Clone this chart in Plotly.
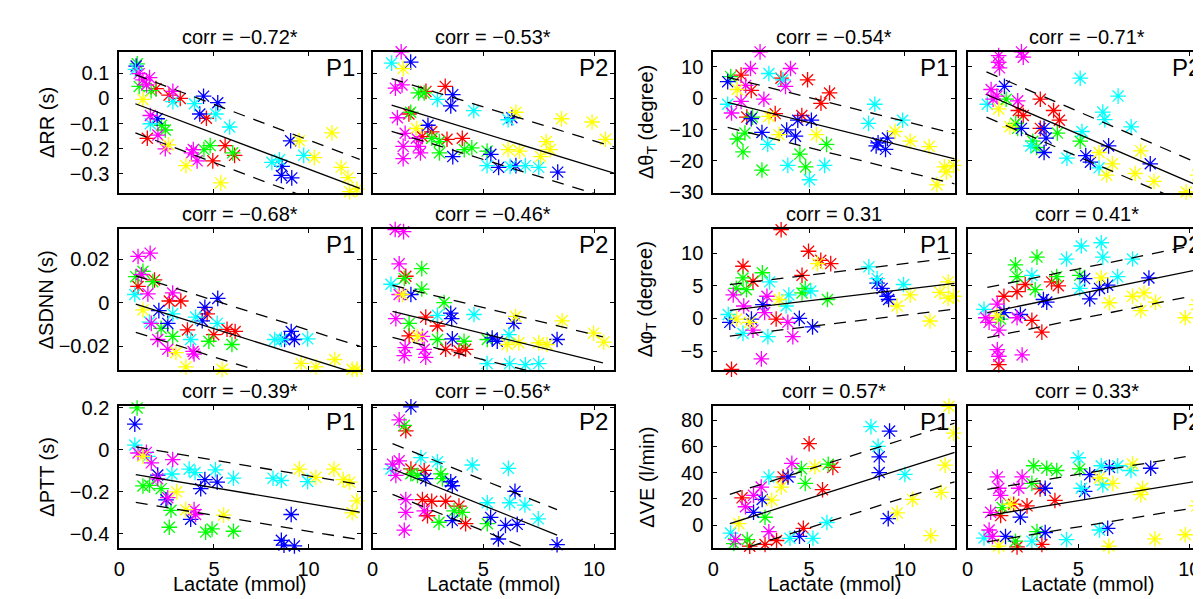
import numpy as np
import plotly.graph_objects as go

# ---------------- data ----------------
COLORS = {"r": "#FF0000", "g": "#00FF00", "b": "#0000FF",
          "c": "#00FFFF", "m": "#FF00FF", "y": "#FFFF00"}
ORDER = ["r", "g", "b", "c", "m", "y"]

# dRR (s), P1
RR_P1 = {
    "g": ([0.95, 1.05, 1.68, 2.23, 2.43, 4.47, 4.80, 5.99],
          [0.138, 0.048, 0.031, -0.107, -0.126, -0.204, -0.188, -0.217]),
    "m": ([1.05, 1.25, 1.44, 1.60, 2.83, 1.64, 2.04, 2.43, 3.81, 4.11, 3.91],
          [0.099, 0.074, 0.054, 0.083, 0.028, -0.068, -0.146, -0.201, -0.217, -0.249, -0.204]),
    "c": ([0.85, 1.64, 2.83, 3.97, 5.10, 5.83, 8.06, 8.46, 9.74],
          [0.116, -0.101, -0.013, -0.021, -0.062, -0.114, -0.255, -0.245, -0.227]),
    "b": ([0.89, 2.0, 4.45, 5.20, 4.25, 9.05, 8.56, 9.11, 8.60],
          [0.129, -0.081, 0.009, -0.017, -0.062, -0.169, -0.307, -0.317, -0.271]),
    "r": ([1.48, 1.94, 2.63, 3.22, 4.60, 4.94, 5.59, 6.09],
          [-0.159, 0.039, 0.013, 0.0, -0.079, -0.249, -0.188, -0.227]),
    "y": ([1.25, 2.59, 3.52, 5.36, 9.51, 10.30, 11.23, 11.72, 12.08, 12.17, 12.55],
          [-0.004, -0.185, -0.268, -0.337, -0.169, -0.236, -0.137, -0.275, -0.316, -0.372, -0.362]),
}
# dRR (s), P2
RR_P2 = {
    "m": ([1.29, 1.03, 1.33, 1.12, 1.47, 1.38, 1.38, 2.07, 2.16, 1.98],
          [0.186, 0.041, 0.054, -0.077, -0.139, -0.191, -0.24, -0.191, -0.217, -0.159]),
    "c": ([0.86, 2.93, 4.57, 6.12, 5.17, 6.21, 6.9, 7.5],
          [0.141, -0.004, -0.049, -0.085, -0.268, -0.271, -0.268, -0.275]),
    "b": ([1.72, 2.5, 3.62, 3.53, 3.62, 5.34, 5.69, 6.47, 8.36, 6.29],
          [0.145, -0.107, 0.015, -0.03, -0.232, -0.223, -0.275, -0.268, -0.294, -0.077]),
    "r": ([1.64, 2.41, 3.28, 2.67, 3.36, 4.05, 2.24],
          [-0.062, 0.028, 0.048, -0.133, -0.163, -0.159, -0.152]),
    "g": ([1.72, 2.07, 2.33, 2.67, 3.02, 3.02, 4.14, 5.17, 4.48],
          [-0.055, 0.022, 0.022, -0.159, -0.172, -0.217, -0.204, -0.21, -0.197]),
    "y": ([1.38, 1.98, 6.47, 6.12, 6.64, 7.84, 8.02, 7.59, 8.53, 9.91, 10.52],
          [0.119, -0.12, -0.055, -0.204, -0.21, -0.172, -0.204, -0.232, -0.081, -0.094, -0.163]),
}
# dTheta_T (degree), P1
TH_P1 = {
    "g": ([0.91, 1.25, 1.65, 1.55, 2.04, 2.54, 4.52, 4.82, 5.91],
          [6.9, -13, -11.1, -17.1, -6, -22.9, -17.8, -21.9, -14.7]),
    "m": ([2.44, 1.94, 1.69, 1.45, 0.95, 2.64, 4.03, 3.77],
          [14.8, 9.5, 4.1, -1, -4.7, -0.3, 9.5, 3.8]),
    "r": ([1.45, 1.98, 3.53, 4.92, 6.07, 5.62, 3.23, 4.62, 1.75],
          [7.4, 2.5, 6.4, 5.9, 1.7, -1.6, -4.9, -5.5, -6]),
    "c": ([0.75, 2.9, 3.63, 2.84, 3.89, 5.02, 5.81, 8.1, 8.43, 9.88],
          [-1.9, 7.9, 5.9, -14.7, -21.4, -26, -21.4, -8, -1.9, -7]),
    "b": ([0.75, 1.98, 2.54, 3.83, 4.29, 4.41, 5.12, 8.6, 8.99, 9.09, 8.5],
          [5.3, -6.5, -10.9, -10.1, -12.1, -7, -7, -14.2, -16.3, -12.7, -15.2]),
    "y": ([1.25, 2.9, 3.43, 5.38, 9.48, 10.28, 11.27, 12.06, 12.16, 12.55, 11.67],
          [2.8, -5.8, -11.6, -11.6, -10.6, -13.7, -15.4, -21.9, -23.5, -21.4, -27.6]),
}
# dTheta_T (degree), P2
TH_P2 = {
    "m": ([1.4, 1.4, 1.44, 2.43, 2.51, 1.06, 1.15, 1.32, 2.26],
          [13.6, 11.5, 9.7, 14.8, 13.1, 2.8, -0.3, 0.7, -0.8]),
    "c": ([0.89, 5.08, 6.79, 6.1, 6.19, 7.38, 5.16, 4.48, 2.85, 5.93],
          [-1.9, 6.4, 0.7, -4.4, -6.8, -9.1, -10.6, -19.1, -15.2, -22.2]),
    "b": ([1.66, 2.43, 3.45, 3.54, 3.45, 5.33, 5.54, 6.36, 8.24],
          [3.8, -9.6, -9.6, -12.7, -17.3, -18.3, -20.4, -15.2, -20.9]),
    "r": ([3.28, 3.88, 4.14, 2.29, 2.51, 3.28],
          [-0.3, -3.9, -7, -3.9, -5.5, -9.6]),
    "g": ([2.17, 2.26, 2.94, 3.11, 4.05, 5.08, 1.74],
          [-8, -9.6, -13.7, -15.7, -11.1, -13.7, -0.3]),
    "y": ([1.4, 1.91, 5.93, 6.53, 6.27, 7.56, 7.81, 8.41, 9.86, 10.38],
          [-3.4, -9.1, -17.3, -20.9, -24.5, -24, -16.8, -26.5, -29.9, -24.5]),
}
# dSDNN (s), P1
SD_P1 = {
    "m": ([0.99, 1.63, 1.17, 1.51, 2.82, 1.69, 2.03, 2.56, 3.95, 3.9],
          [0.0212, 0.0227, 0.0129, 0.004, 0.0044, -0.0096, -0.017, -0.0215, -0.0237, -0.0225]),
    "g": ([0.87, 1.25, 1.77, 2.21, 2.82, 4.73, 5.95],
          [0.0119, 0.0144, 0.0096, -0.0119, -0.0156, -0.0178, -0.0193]),
    "r": ([0.99, 1.86, 2.64, 3.25, 3.6, 4.64, 4.99, 5.69, 6.12],
          [0.0074, 0.0104, 0.0007, 0.0007, -0.0126, -0.0052, -0.0148, -0.0123, -0.0133]),
    "c": ([0.82, 2.82, 4.03, 3.77, 5.17, 8.21, 8.56, 9.95, 1.6],
          [0.0037, -0.0052, -0.0067, -0.017, -0.0096, -0.017, -0.017, -0.0167, -0.009]),
    "b": ([2.09, 2.56, 4.52, 5.2, 4.38, 9.08, 9.25, 8.73],
          [-0.0037, -0.0096, -0.0022, 0.0019, -0.0084, -0.0133, -0.017, -0.017]),
    "y": ([1.25, 2.99, 3.52, 5.43, 9.61, 10.39, 11.38, 12.3, 12.55],
          [-0.0034, -0.023, -0.0296, -0.0307, -0.028, -0.0296, -0.0262, -0.0307, -0.0307]),
}
# dSDNN (s), P2
SD_P2 = {
    "m": ([1.02, 1.4, 1.2, 1.2, 1.05, 1.47, 1.43, 2.33, 2.4, 2.25],
          [0.0336, 0.0326, 0.0178, 0.0037, -0.0074, -0.0207, -0.0244, -0.0215, -0.0252, -0.0156]),
    "c": ([0.83, 2.93, 4.58, 6.16, 5.17, 6.19, 6.9, 7.5],
          [0.0084, -0.0059, -0.0055, -0.0148, -0.0281, -0.0281, -0.0286, -0.0281]),
    "g": ([2.22, 2.22, 1.43, 3.23, 1.65, 2.93, 4.13, 5.18],
          [0.0156, 0.0062, 0.0111, 0.0, -0.0096, -0.017, -0.0178, -0.017]),
    "r": ([1.5, 2.4, 2.93, 1.65, 3.3, 3.9, 4.2],
          [0.0121, -0.0067, -0.0108, -0.0153, -0.0215, -0.0222, -0.0215]),
    "b": ([1.73, 3.53, 3.57, 3.6, 5.4, 5.63, 6.38, 8.33],
          [0.0037, -0.0049, -0.0074, -0.0167, -0.0163, -0.0178, -0.0096, -0.017]),
    "y": ([1.35, 2.03, 6.46, 6.08, 6.6, 7.5, 7.88, 8.56, 9.98, 10.44],
          [0.0037, -0.0156, -0.0064, -0.0193, -0.0185, -0.0185, -0.0193, -0.0084, -0.0141, -0.0182]),
}
# dPhi_T (degree), P1
PH_P1 = {
    "r": ([3.54, 1.55, 2.07, 4.63, 4.97, 5.61, 6.13, 3.28, 0.95],
          [13.6, 8.0, 5.7, 6.6, 10.3, 8.9, 8.4, -0.1, -7.8]),
    "g": ([1.55, 1.73, 2.56, 4.63, 4.8, 5.96, 1.2],
          [6.2, 4.4, 7.0, 3.9, 4.6, 2.9, 4.6]),
    "m": ([1.04, 1.59, 2.8, 2.68, 2.07, 3.89, 4.15, 2.51],
          [3.6, 1.9, 3.4, 0.9, -1.8, -0.6, -2.8, -6.2]),
    "c": ([0.78, 1.55, 2.85, 2.94, 3.94, 3.8, 5.09, 8.12, 8.55, 9.93],
          [0.6, -2.3, -2.8, 5.6, 3.6, 1.9, 4.2, 7.9, 6.1, 5.2]),
    "b": ([0.86, 1.99, 2.59, 4.49, 5.18, 8.55, 8.81, 9.07, 9.15],
          [-0.6, -0.1, 2.1, 0, -1.3, 5.4, 4.6, 3.4, 2.9]),
    "y": ([1.21, 1.9, 3.45, 5.44, 9.59, 10.28, 11.31, 11.83, 12.26, 12.26, 12.55],
          [-0.1, -0.6, 2.9, 8.4, 1.9, 3.6, -0.4, 4.0, 5.6, 3.1, 3.4]),
}
# dPhi_T (degree), P2
PH_P2 = {
    "m": ([0.82, 0.97, 1.34, 1.41, 1.34, 1.41, 2.46, 2.23],
          [0.1, -0.6, 2.2, -1.8, -4.8, -5.8, -5.6, 0.1]),
    "c": ([0.74, 2.9, 4.46, 5.13, 6.03, 6.1, 7.44, 6.77, 5.06],
          [1.4, 6.6, 9.1, 11.1, 11.6, 9.4, 9.1, 6.4, 4.6]),
    "g": ([2.16, 3.13, 2.23, 4.02, 5.06, 3.05, 1.49],
          [8.2, 9.4, 6.4, 6.4, 6.6, 4.4, -0.1]),
    "r": ([1.64, 2.23, 2.6, 3.79, 4.09, 2.9, 3.35, 1.41],
          [3.4, 4.1, 5.2, 5.6, 5.0, -0.3, -2.1, -7.1]),
    "b": ([1.64, 2.38, 3.42, 3.57, 5.28, 5.51, 5.95, 6.32, 8.18],
          [0.9, 0.6, 2.9, 2.5, 6.1, 3.0, 4.6, 5.1, 6.2]),
    "y": ([1.34, 6.03, 6.4, 7.44, 7.81, 7.96, 8.48, 10.34, 9.82],
          [0.4, 6.2, 2.4, 3.4, 1.2, 3.9, 2.5, 2.1, 0.1]),
}
# dPTT (s), P1
PT_P1 = {
    "g": ([0.94, 1.25, 1.6, 2.21, 2.73, 2.64, 4.56, 4.9, 6.03],
          [0.2, -0.172, -0.169, -0.185, -0.288, -0.369, -0.392, -0.377, -0.388]),
    "b": ([0.82, 2.03, 2.47, 4.3, 4.52, 5.17, 3.77, 9.08, 8.56, 8.7, 9.25],
          [0.123, -0.12, -0.238, -0.185, -0.142, -0.154, -0.331, -0.308, -0.431, -0.454, -0.458]),
    "c": ([0.82, 1.51, 2.78, 3.69, 4.0, 5.08, 6.03, 8.12, 8.56, 9.95],
          [0.023, -0.031, -0.115, -0.092, -0.108, -0.095, -0.135, -0.135, -0.146, -0.151]),
    "m": ([0.99, 1.43, 1.69, 2.82, 2.03, 2.56, 3.95, 4.03],
          [-0.015, -0.012, -0.062, -0.046, -0.138, -0.228, -0.285, -0.308]),
    "y": ([1.25, 3.03, 3.51, 5.51, 9.51, 10.38, 11.34, 11.83, 12.17, 12.55, 12.3],
          [-0.031, -0.2, -0.285, -0.311, -0.092, -0.131, -0.092, -0.142, -0.154, -0.243, -0.3]),
}
# dPTT (s), P2
PT_P2 = {
    "b": ([1.73, 2.4, 3.53, 3.6, 6.43, 3.6, 5.33, 6.0, 6.53, 5.68, 8.33],
          [0.205, -0.137, -0.152, -0.171, -0.198, -0.337, -0.322, -0.36, -0.355, -0.425, -0.452]),
    "m": ([1.2, 0.9, 1.2, 1.05, 1.5, 1.5, 1.43, 2.33],
          [0.143, -0.068, -0.052, -0.122, -0.237, -0.298, -0.383, -0.291]),
    "r": ([1.5, 1.73, 2.33, 2.25, 2.67, 3.3, 3.9, 4.2, 2.48],
          [0.091, -0.091, -0.098, -0.237, -0.245, -0.245, -0.268, -0.352, -0.314]),
    "g": ([1.43, 1.73, 2.03, 3.08, 3.15, 3.0, 3.68, 4.05, 5.18],
          [0.117, -0.114, -0.122, -0.114, -0.137, -0.345, -0.291, -0.298, -0.352]),
    "c": ([0.83, 2.18, 2.93, 4.5, 6.13, 5.18, 6.19, 6.88, 7.48],
          [-0.091, -0.037, -0.057, -0.072, -0.088, -0.252, -0.252, -0.263, -0.329]),
}
# dVE (l/min), P1
VE_P1 = {
    "y": ([12.3, 12.55, 12.1, 11.9, 10.4, 9.6, 11.35, 5.3, 3.55, 3.05, 1.33],
          [90.5, 70, 45.7, 25, 19.6, 9.3, -8, 44.5, 29, 19, 1.2]),
    "c": ([8.23, 8.6, 10.0, 5.93, 2.9, 4.0, 5.2, 0.9],
          [75, 60, 38.6, 2, 36.7, -10, -10, -6]),
    "b": ([9.2, 8.66, 8.66, 9.13, 3.9, 2.1, 4.5, 2.55],
          [71.6, 52, 40, 5, 36.7, 9.8, -8.5, 19.6]),
    "r": ([5.0, 5.7, 6.24, 1.5, 4.7, 3.3, 2.7, 1.9, 3.64],
          [62, 27, 44, 20.8, -2.4, -11.7, -14.7, -16, 36.7]),
    "g": ([6.0, 4.6, 4.8, 2.7, 1.07, 1.77],
          [46.4, 43, 31.8, 6, -14, -11]),
    "m": ([4.1, 2.5, 1.68, 2.9, 1.16, 2.1],
          [47, 29, 14, -5, -11, 22.7]),
}
# dVE (l/min), P2
VE_P2 = {
    "m": ([1.34, 1.41, 1.49, 1.04, 0.97, 1.12, 2.46, 2.31],
          [36.7, 28.1, 22.7, 9.8, -3.7, -8.6, 36.7, 28.1]),
    "g": ([2.98, 3.57, 4.02, 5.06, 2.9, 1.56, 2.16, 3.13],
          [45.2, 43.3, 41.6, 42.8, 31.8, 13.4, -12.2, -4.9]),
    "r": ([2.08, 2.68, 3.94, 3.27, 1.49, 2.23, 3.35],
          [15.9, 14.7, 18.8, 27.6, 7.3, -16.5, -14.7]),
    "c": ([4.99, 5.13, 6.03, 6.1, 6.77, 7.37, 5.95, 4.46, 0.74, 2.9],
          [51.3, 28.1, 45.2, 30.6, 45.2, 41.6, -3.7, -11, -9.8, -12.2]),
    "b": ([5.51, 6.4, 8.26, 3.5, 5.28, 2.38, 1.71, 3.5, 6.32],
          [38.4, 44, 43.3, 28.1, 25.7, 6.1, -8.6, -5.6, -2.4]),
    "y": ([7.44, 5.95, 6.55, 7.89, 7.81, 10.34, 9.82, 8.45, 6.37, 1.41, 1.93],
          [46.5, 35.9, 31.8, 28.1, 23.2, 14.7, -7.3, -10.5, -15.9, -15.9, 15.9]),
}

# regression line [x start, x end, intercept, slope, half-width of dashed band]
LINES = {
    "RR_P1": [0.85, 12.7, 0.003, -0.0285, 0.116],
    "RR_P2": [0.86, 10.9, -0.003, -0.0271, 0.105],
    "TH_P1": [0.75, 12.6, -0.16, -1.52, 8.0],
    "TH_P2": [0.85, 10.3, 3.8, -3.05, 7.2],
    "SD_P1": [0.87, 12.7, 0.0017, -0.00274, 0.013],
    "SD_P2": [0.90, 10.4, -0.0018, -0.0025, 0.012],
    "PH_P1": [0.86, 12.6, 0.94, 0.352, 3.95],
    "PH_P2": [0.89, 10.3, 0.28, 0.693, 3.85],
    "PT_P1": [0.87, 12.7, -0.105, -0.0151, 0.132],
    "PT_P2": [0.90, 8.33, -0.053, -0.0424, 0.121],
    "VE_P1": [0.86, 12.6, -2.76, 4.61, 22.3],
    "VE_P2": [0.89, 10.8, 4.83, 2.77, 20.0],
}
CORR = {
    "RR_P1": "−0.72*", "RR_P2": "−0.53*", "TH_P1": "−0.54*", "TH_P2": "−0.71*",
    "SD_P1": "−0.68*", "SD_P2": "−0.46*", "PH_P1": "0.31", "PH_P2": "0.41*",
    "PT_P1": "−0.39*", "PT_P2": "−0.56*", "VE_P1": "0.57*", "VE_P2": "0.33*",
}
YLABELS = ["ΔRR (s)", "Δθ<sub>T</sub> (degree)", "ΔSDNN (s)",
           "Δφ<sub>T</sub> (degree)", "ΔPTT (s)", "ΔVE (l/min)"]
YRANGES = [[-0.377, 0.187], [-30.2, 14.9], [-0.031, 0.0338],
           [-7.9, 13.7], [-0.466, 0.208], [-17.1, 90.5]]
YTICKS = [[-0.3, -0.2, -0.1, 0, 0.1], [-30, -20, -10, 0, 10], [-0.02, 0, 0.02],
          [-5, 0, 5, 10], [-0.4, -0.2, 0, 0.2], [0, 20, 40, 60, 80]]
YTICKTEXT = [["−0.3", "−0.2", "−0.1", "0", "0.1"], ["−30", "−20", "−10", "0", "10"],
             ["−0.02", "0", "0.02"], ["−5", "0", "5", "10"],
             ["−0.4", "−0.2", "0", "0.2"], ["0", "20", "40", "60", "80"]]
XRANGES = [[0, 12.75], [0, 10.9], [0, 12.6], [0, 10.8]]
XTICKS = [0, 5, 10]

GRID = [["RR_P1", "RR_P2", "TH_P1", "TH_P2"],
        ["SD_P1", "SD_P2", "PH_P1", "PH_P2"],
        ["PT_P1", "PT_P2", "VE_P1", "VE_P2"]]
DATA = {"RR_P1": RR_P1, "RR_P2": RR_P2, "TH_P1": TH_P1, "TH_P2": TH_P2,
        "SD_P1": SD_P1, "SD_P2": SD_P2, "PH_P1": PH_P1, "PH_P2": PH_P2,
        "PT_P1": PT_P1, "PT_P2": PT_P2, "VE_P1": VE_P1, "VE_P2": VE_P2}

# ---------------- layout geometry ----------------
W, H = 1201, 599
COL_PX = [(106, 349), (361, 604), (704, 947), (960, 1201)]
ROW_PX = [(35.7, 181.7), (219, 364.5), (402, 548)]
FONT = "Liberation Sans, Arial, Helvetica, sans-serif"


def px2x(p):
    return p / W


def px2y(p):
    return 1 - p / H


fig = go.Figure()
layout = {}
annotations = []

for r in range(3):
    for c in range(4):
        k = r * 4 + c + 1
        name = GRID[r][c]
        side = 0 if c < 2 else 1
        yi = r * 2 + side
        xa = "x" if k == 1 else f"x{k}"
        ya = "y" if k == 1 else f"y{k}"
        d = DATA[name]
        for key in ORDER:
            if key not in d:
                continue
            xs, ys = d[key]
            fig.add_trace(go.Scatter(
                x=xs, y=ys, mode="markers", xaxis=xa, yaxis=ya,
                showlegend=False, cliponaxis=False, hoverinfo="skip",
                marker=dict(symbol="asterisk-open", size=13, color=COLORS[key],
                            line=dict(color=COLORS[key], width=1.3))))
        x0, x1, b0, sl, hw = LINES[name]
        lx = np.array([x0, x1])
        ly = b0 + sl * lx
        fig.add_trace(go.Scatter(x=lx, y=ly, mode="lines", xaxis=xa, yaxis=ya,
                                 showlegend=False, hoverinfo="skip",
                                 line=dict(color="black", width=1.3)))
        for s in (1, -1):
            fig.add_trace(go.Scatter(x=lx, y=ly + s * hw, mode="lines",
                                     xaxis=xa, yaxis=ya, showlegend=False,
                                     hoverinfo="skip",
                                     line=dict(color="black", width=1.3, dash="12px,9px")))

        cx0, cx1 = COL_PX[c]
        ry0, ry1 = ROW_PX[r]
        common = dict(showline=True, linecolor="black", linewidth=2, mirror="ticks",
                      ticks="inside", ticklen=4, tickwidth=1, tickcolor="black",
                      showgrid=False, zeroline=False,
                      tickfont=dict(family=FONT, size=20, color="black"))
        layout["xaxis" if k == 1 else f"xaxis{k}"] = dict(
            domain=[px2x(cx0), px2x(cx1)], range=XRANGES[c], anchor=ya,
            tickvals=XTICKS, ticktext=[str(v) for v in XTICKS],
            showticklabels=(r == 2), ticklabelstandoff=2, **common)
        layout["yaxis" if k == 1 else f"yaxis{k}"] = dict(
            domain=[px2y(ry1), px2y(ry0)], range=YRANGES[yi], anchor=xa,
            tickvals=YTICKS[yi], ticktext=YTICKTEXT[yi],
            showticklabels=(c % 2 == 0), ticklabelstandoff=4, **common)

        xc = px2x((cx0 + cx1) / 2)
        annotations.append(dict(text="corr = " + CORR[name], x=xc, y=px2y(ry0),
                                xref="paper", yref="paper", xanchor="center",
                                yanchor="bottom", yshift=2, showarrow=False,
                                font=dict(family=FONT, size=20, color="black")))
        annotations.append(dict(text="P1" if c % 2 == 0 else "P2", x=px2x(cx1),
                                y=px2y(ry0), xref="paper", yref="paper",
                                xanchor="right", yanchor="top", xshift=-4, yshift=0,
                                showarrow=False,
                                font=dict(family=FONT, size=24, color="black")))
        if r == 2:
            annotations.append(dict(text="Lactate (mmol)", x=xc, y=0,
                                    xref="paper", yref="paper", xanchor="center",
                                    yanchor="bottom", yshift=0, showarrow=False,
                                    font=dict(family=FONT, size=20, color="black")))
        if c % 2 == 0:
            lxp = 33 if c == 0 else 637
            annotations.append(dict(text=YLABELS[yi], x=px2x(lxp),
                                    y=px2y((ry0 + ry1) / 2), xref="paper",
                                    yref="paper", xanchor="center", yanchor="middle",
                                    textangle=-90, showarrow=False,
                                    font=dict(family=FONT, size=20, color="black")))

fig.update_layout(width=W, height=H, margin=dict(l=0, r=0, t=0, b=0),
                  paper_bgcolor="white", plot_bgcolor="white",
                  annotations=annotations, **layout)
fig.write_html("out.html")
